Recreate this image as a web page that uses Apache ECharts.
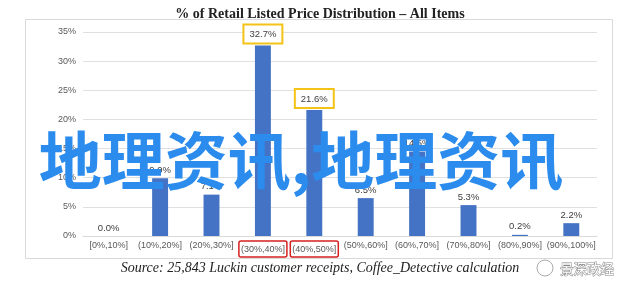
<!DOCTYPE html>
<html><head><meta charset="utf-8">
<script src="https://cdn.jsdelivr.net/npm/echarts@6/dist/echarts.min.js"></script>
<style>html,body{margin:0;padding:0;background:#fff}#c{width:640px;height:285px}</style>
</head><body><div id="c"></div>
<script>
const categories = ['[0%,10%]','(10%,20%]','(20%,30%]','(30%,40%]','(40%,50%]','(50%,60%]','(60%,70%]','(70%,80%]','(80%,90%]','(90%,100%]'];
const values = [0.0, 9.9, 7.1, 32.7, 21.6, 6.5, 14.5, 5.3, 0.2, 2.2];
const yTicks = [0, 5, 10, 15, 20, 25, 30, 35];
const highlightedValues = [3, 4];
const redBoxed = ['(30%,40%]','(40%,50%]'];
const titleText = '% of Retail Listed Price Distribution – All Items';
const sourceText = 'Source: 25,843 Luckin customer receipts, Coffee_Detective calculation';
const watermarkText = '地理资讯,地理资讯';
const brandText = '景深政经';

const chart = echarts.init(document.getElementById('c'));
const data = values.map((v, i) => {
  const item = { value: v };
  if (highlightedValues.includes(i)) {
    item.label = { backgroundColor: '#fff', borderColor: '#f3c317', borderWidth: 2, padding: [4, 5, 3, 5], distance: 3 };
  }
  return item;
});
chart.setOption({
  animation: false,
  title: { text: titleText, left: 'center', top: 2,
    textStyle: { fontFamily: 'Liberation Serif', fontWeight: 'bold', fontSize: 14, color: '#222' } },
  grid: { left: 83, right: 43, top: 32, bottom: 49, containLabel: false },
  xAxis: {
    type: 'category', data: categories,
    axisLine: { lineStyle: { color: '#d9d9d9' } },
    axisTick: { show: false },
    axisLabel: {
      interval: 0, margin: 5, fontSize: 9, color: '#595959', fontFamily: 'Liberation Sans',
      formatter: v => redBoxed.includes(v) ? '{b|' + v + '}' : v,
      rich: { b: { borderColor: '#d62020', borderWidth: 1.5, borderRadius: 2, padding: [4, 2, 3, 2], fontSize: 9, color: '#595959' } }
    }
  },
  yAxis: {
    type: 'value', min: 0, max: 35, interval: 5,
    axisLabel: { formatter: v => v + '%', fontSize: 9, color: '#595959', margin: 7, fontFamily: 'Liberation Sans' },
    splitLine: { lineStyle: { color: '#e0e0e0' } },
    axisLine: { show: false }, axisTick: { show: false }
  },
  series: [{
    type: 'bar', data: data, barWidth: '31%',
    itemStyle: { color: '#4472c4' },
    label: { show: true, position: 'top', distance: 3, fontSize: 9.5, color: '#404040', fontFamily: 'Liberation Sans',
      formatter: p => p.value.toFixed(1) + '%' }
  }],
  graphic: [
    { type: 'rect', shape: { x: 25.5, y: 19.5, width: 587, height: 239 }, style: { fill: 'none', stroke: '#d9d9d9', lineWidth: 1 }, z: -1 },
    { type: 'text', x: 320, y: 268, style: { text: sourceText, align: 'center', verticalAlign: 'middle',
      font: 'italic 14px "Liberation Serif"', fill: '#222' } },
    { type: 'text', x: 301, y: 160, z: 100, style: { text: watermarkText, align: 'center', verticalAlign: 'middle',
      font: 'bold 63px "Noto Sans CJK SC"', fill: '#2b8cee' } },
    { type: 'circle', shape: { cx: 545, cy: 268, r: 8 }, style: { fill: 'none', stroke: '#aaa', lineWidth: 1 }, z: 100 },
    { type: 'text', x: 587, y: 269, z: 100, style: { text: brandText, align: 'center', verticalAlign: 'middle',
      font: '13.5px "Noto Sans CJK SC"', fill: '#fff', stroke: '#888', lineWidth: 1 } }
  ]
});
</script></body></html>
